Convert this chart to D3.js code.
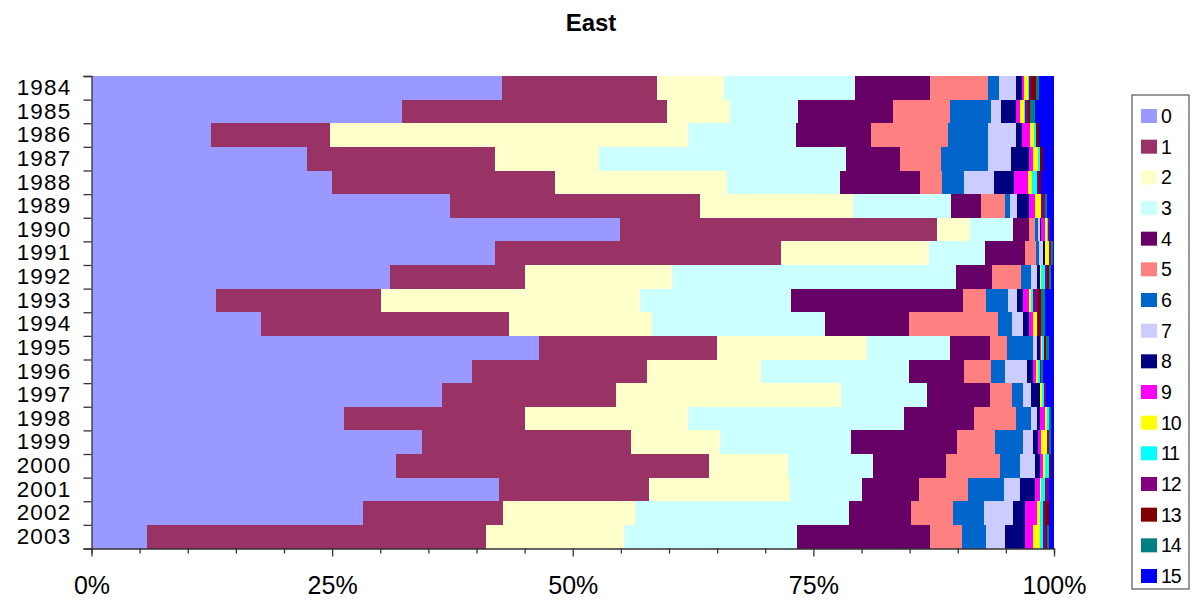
<!DOCTYPE html>
<html><head><meta charset="utf-8">
<script src="https://cdn.jsdelivr.net/npm/d3@7"></script>
<style>
html,body{margin:0;padding:0;background:#fff;}
svg{display:block;font-family:"Liberation Sans",Arial,sans-serif;}
</style></head>
<body><svg id="c" width="1192" height="603"></svg>
<script>
const years = ["1984","1985","1986","1987","1988","1989","1990","1991","1992","1993","1994","1995","1996","1997","1998","1999","2000","2001","2002","2003"];
const categories = ["0","1","2","3","4","5","6","7","8","9","10","11","12","13","14","15"];
const colors = ["#9999FF","#993366","#FFFFCC","#CCFFFF","#660066","#FF8080","#0066CC","#CCCCFF","#000080","#FF00FF","#FFFF00","#00FFFF","#800080","#800000","#008080","#0000FF"];
const xTickValues = [0,0.05,0.1,0.15,0.2,0.25,0.3,0.35,0.4,0.45,0.5,0.55,0.6,0.65,0.7,0.75,0.8,0.85,0.9,0.95,1];
const xTickLabels = {"0":"0%","0.25":"25%","0.5":"50%","0.75":"75%","1":"100%"};

// series values (percent share per year, 1984..2003)
const s0  = [42.6,32.3,12.4,22.4,25.0,37.2,54.9,41.9,31.0,12.9,17.6,46.5,39.5,36.3,26.2,34.2,31.6,42.3,28.1,5.8];
const s1  = [16.1,27.5,12.4,19.5,23.2,25.9,32.9,29.7,13.9,17.1,25.7,18.5,18.2,18.1,18.8,21.7,32.5,15.6,14.5,35.1];
const s2  = [7.0,6.5,37.2,10.8,17.9,15.9,3.4,15.4,15.3,26.9,14.9,15.6,11.8,23.3,16.9,9.2,8.2,14.6,13.7,14.4];
const s3  = [13.5,7.1,11.2,25.7,11.7,10.1,4.4,5.8,29.4,15.6,17.9,8.6,15.3,8.9,22.4,13.6,8.8,7.5,22.2,17.9];
const s4  = [7.8,9.9,7.8,5.6,8.4,3.1,1.7,4.1,3.8,17.9,8.8,4.1,5.8,6.6,7.3,11.0,7.6,5.9,6.4,13.8];
const s5  = [6.0,5.9,8.0,4.3,2.3,2.5,0.6,1.2,3.0,2.4,9.2,1.8,2.8,2.2,4.4,3.9,5.6,5.1,4.3,3.4];
const s6  = [1.2,4.3,4.1,4.8,2.2,0.5,0.3,0.3,1.0,2.2,1.4,2.7,1.4,1.2,1.5,2.9,2.1,3.7,3.3,2.4];
const s7  = [1.8,1.0,3.0,2.4,3.2,0.8,0.2,0.4,0.6,1.0,1.2,0.4,2.3,0.8,0.6,1.0,1.5,1.7,3.0,2.0];
const s8  = [0.6,1.6,0.6,1.9,2.0,1.2,0.2,0.2,0.3,0.6,0.6,0.3,0.6,0.9,0.3,0.5,0.5,1.5,1.2,2.1];
const s9  = [0.2,0.4,0.8,0.4,1.5,0.6,0.4,0.0,0.0,0.6,0.4,0.1,0.3,0.1,0.6,0.4,0.4,0.5,1.2,0.8];
const s10 = [0.4,0.4,0.4,0.5,0.4,0.7,0.2,0.4,0.2,0.2,0.4,0.2,0.2,0.2,0.2,0.6,0.2,0.2,0.3,0.7];
const s11 = [0.1,0.1,0.2,0.2,0.5,0.0,0.1,0.05,0.4,0.2,0.0,0.2,0.2,0.2,0.2,0.0,0.4,0.4,0.4,0.4];
const s12 = [0.2,0.3,0.0,0.0,0.2,0.4,0.2,0.2,0.2,0.5,0.1,0.0,0.1,0.2,0.0,0.2,0.0,0.4,0.2,0.3];
const s13 = [0.5,0.2,0.3,0.4,0.2,0.0,0.0,0.0,0.2,0.4,0.4,0.2,0.1,0.0,0.0,0.0,0.2,0.0,0.4,0.1];
const s14 = [0.3,0.5,0.0,0.0,0.0,0.2,0.0,0.2,0.2,0.4,0.4,0.3,0.2,0.0,0.2,0.2,0.0,0.0,0.0,0.2];
const s15 = [1.6,2.0,1.6,1.1,1.4,0.7,0.4,0.1,0.3,0.9,0.9,0.5,1.1,0.8,0.3,0.3,0.3,0.5,0.5,0.5];
const seriesValues = [s0,s1,s2,s3,s4,s5,s6,s7,s8,s9,s10,s11,s12,s13,s14,s15];

const rows = years.map((y,i)=>{const o={year:y}; categories.forEach((c,k)=>o[c]=seriesValues[k][i]); return o;});
const stack = d3.stack().keys(categories).offset(d3.stackOffsetExpand);
const layers = stack(rows);

const svg = d3.select("#c");
const L=91.5, R=1054, T=76, B=548.5;
const x = d3.scaleLinear().domain([0,1]).range([L,R]);
const y = d3.scaleBand().domain(years).range([T,B]).padding(0);
const color = d3.scaleOrdinal().domain(categories).range(colors);

svg.append("text").attr("x",591).attr("y",31).attr("text-anchor","middle")
  .attr("font-size",24).attr("font-weight","bold").text("East");

svg.append("g").selectAll("g").data(layers).join("g")
  .attr("fill",d=>color(d.key))
  .selectAll("rect").data(d=>d).join("rect")
  .attr("x",d=>x(d[0])).attr("width",d=>Math.max(0,x(d[1])-x(d[0])))
  .attr("y",d=>y(d.data.year)).attr("height",y.bandwidth())
  .attr("shape-rendering","crispEdges");

// y axis: boundary ticks
const yb = d3.scaleLinear().domain([0,years.length]).range([T,B]);
const yAxisTicks = svg.append("g").attr("transform",`translate(${L},0)`)
  .call(d3.axisLeft(yb).tickValues(d3.range(0,years.length+1)).tickSize(8).tickFormat(""));
yAxisTicks.selectAll("path,line").attr("stroke","#333").attr("stroke-width",1.3);
// y labels
const yLab = svg.append("g").attr("transform",`translate(${L},0)`)
  .call(d3.axisLeft(y).tickSize(0).tickPadding(20));
yLab.select(".domain").remove();
yLab.selectAll("text").attr("font-size",22.5).attr("letter-spacing",1.2).attr("fill","#000")
  .attr("font-family","Liberation Sans, Arial, sans-serif");

// x axis
const xa = svg.append("g").attr("transform",`translate(0,${B})`)
  .call(d3.axisBottom(x).tickValues(xTickValues).tickSize(5).tickFormat(d=>xTickLabels[String(+d.toFixed(2))]||""));
xa.selectAll("path,line").attr("stroke","#333").attr("stroke-width",1.3);
xa.selectAll(".tick line").attr("y2",d=>xTickLabels[String(+d.toFixed(2))]?8:5);
xa.selectAll("text").attr("font-size",25).attr("fill","#000").attr("dy",0).attr("y",45)
  .attr("font-family","Liberation Sans, Arial, sans-serif");

// legend
const lg = svg.append("g");
lg.append("rect").attr("x",1132).attr("y",95).attr("width",57).attr("height",494)
  .attr("fill","#fff").attr("stroke","#555").attr("stroke-width",1.2);
const ly = d3.scaleLinear().domain([0,15]).range([116,576]);
const items = lg.selectAll("g.it").data(categories).join("g").attr("class","it")
  .attr("transform",d=>`translate(0,${ly(+d)})`);
items.append("rect").attr("x",1141).attr("y",-7).attr("width",16).attr("height",14).attr("fill",d=>color(d));
items.append("text").attr("x",1161).attr("y",7).attr("font-size",19.5).attr("letter-spacing",-1.2).text(d=>d);
</script></body></html>
